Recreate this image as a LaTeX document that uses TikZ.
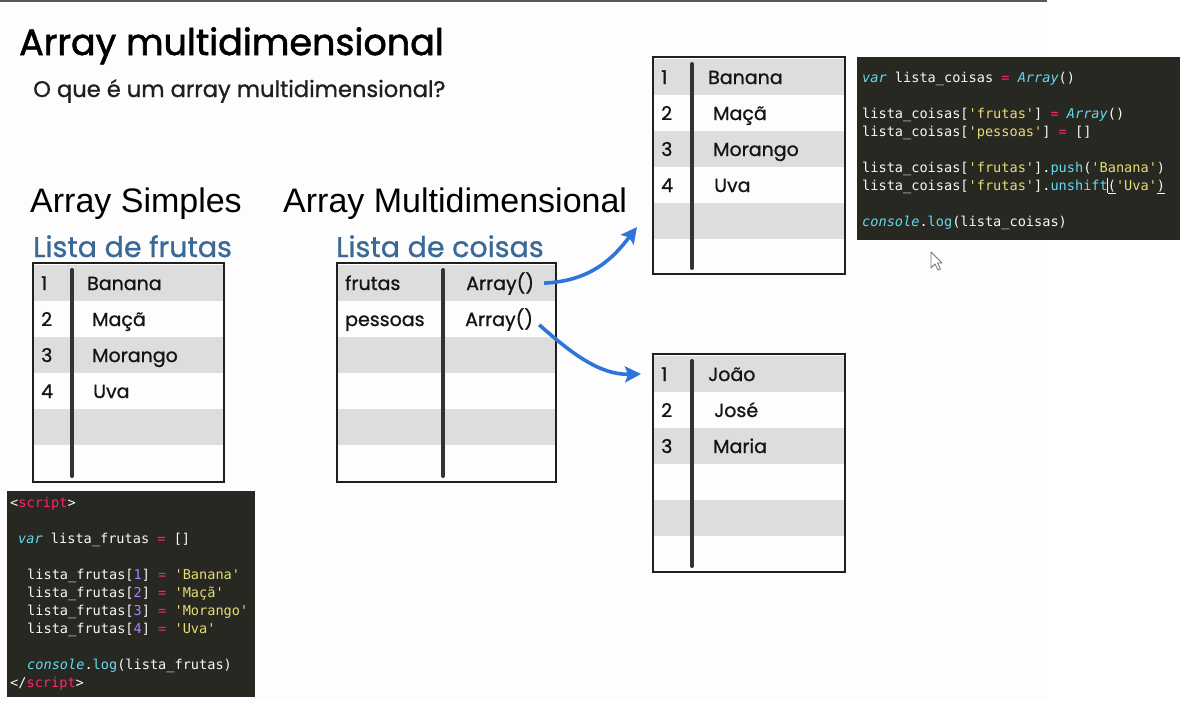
\documentclass[tikz,border=0pt]{standalone}
\usepackage{fontspec}
\setmainfont{Poppins}
\newfontfamily\handfont{Poppins}[FakeBold=0.9]
\newfontfamily\handheavy{Poppins}[FakeBold=1.6]
\newfontfamily\arialfont{Liberation Sans}
\setmonofont{DejaVu Sans Mono}
\usetikzlibrary{arrows.meta}

\definecolor{rowgray}{HTML}{DDDDDD}
\definecolor{listblue}{HTML}{3A6897}
\definecolor{arrowblue}{HTML}{2F74D8}
\definecolor{codebg}{HTML}{272822}
\definecolor{cfg}{HTML}{F8F8F2}
\definecolor{cpink}{HTML}{F92672}
\definecolor{cyellow}{HTML}{E6DB74}
\definecolor{cpurple}{HTML}{AE81FF}
\definecolor{ccyan}{HTML}{66D9EF}

% code colouring helpers
\newcommand{\kwp}[1]{\textcolor{cpink}{#1}}
\newcommand{\kws}[1]{\textcolor{cyellow}{#1}}
\newcommand{\kwn}[1]{\textcolor{cpurple}{#1}}
\newcommand{\kwc}[1]{\textcolor{ccyan}{#1}}
\newcommand{\kwi}[1]{\textcolor{ccyan}{\itshape #1}}

\tikzset{
  cell/.style={anchor=base west, inner sep=0pt, font=\handfont\fontsize{19}{19}\selectfont, text=black!92},
  listhead/.style={anchor=base west, inner sep=0pt, font=\handfont\fontsize{28.5}{28.5}\selectfont, text=listblue},
  section/.style={anchor=base west, inner sep=0pt, font=\arialfont\fontsize{34}{34}\selectfont},
  codeline/.style={anchor=base west, inner sep=0pt, font=\ttfamily\fontsize{13.6}{13.6}\selectfont, text=cfg},
  frame/.style={draw=black!88, line width=2pt},
  divider/.style={draw=black!80, line width=4pt, line cap=round},
  flow/.style={draw=arrowblue, line width=3.6pt, -{Stealth[length=16pt,width=16pt,inset=3pt]}},
}

\begin{document}
\begin{tikzpicture}[x=1pt,y=-1pt]
\useasboundingbox (0,0) rectangle (1195,710);
\fill[white] (0,0) rectangle (1195,710);
\fill[black!0.8] (0,2) rectangle (1047,700);
\draw[black!65, line width=2.5pt] (0,1) -- (1047,1);

% titles
\node[anchor=base west, inner sep=0pt, font=\handheavy\fontsize{36.5}{36.5}\selectfont] (title) at (19,55) {Array multidimensional};
\node[anchor=base west, inner sep=0pt, font=\handfont\fontsize{22.6}{22.6}\selectfont, text=black!88] (subtitle) at (33,97) {O que é um array multidimensional?};
\node[section] (simples) at (30,212) {Array Simples};
\node[section] (multi) at (283,212) {Array Multidimensional};

% ---- simple list ----
\node[listhead] (hfrutas) at (33,257) {Lista de frutas};
\foreach \r in {0,2,4} \fill[rowgray] (34,265+\r*36) rectangle ++(190,36);
\draw[frame] (33,263) rectangle (224,482);
\draw[divider] (72,270) -- (72,476);
\node[cell] (ln1) at (41,290) {1};
\node[cell] (ln2) at (41,326) {2};
\node[cell] (ln3) at (41,362) {3};
\node[cell] (ln4) at (41,398) {4};
\node[cell] (lv1) at (87,290) {Banana};
\node[cell] (lv2) at (92,326) {Maçã};
\node[cell] (lv3) at (92,362) {Morango};
\node[cell] (lv4) at (93,398) {Uva};

% ---- list of lists ----
\node[listhead] (hcoisas) at (336,257) {Lista de coisas};
\foreach \r in {0,2,4} \fill[rowgray] (338,265+\r*36) rectangle ++(218,36);
\draw[frame] (337,263) rectangle (556,482);
\draw[divider] (443,270) -- (443,476);
\node[cell] (kfrutas) at (345,290) {frutas};
\node[cell] (kpessoas) at (345,326) {pessoas};
\node[cell] (arr1) at (466,290) {Array()};
\node[cell] (arr2) at (465,326) {Array()};

% ---- fruits array ----
\foreach \r in {0,2,4} \fill[rowgray] (654,59+\r*36) rectangle ++(190,36);
\draw[frame] (653,57) rectangle (845,274);
\draw[divider] (692,64) -- (692,268);
\node[cell] (fn1) at (661,84) {1};
\node[cell] (fn2) at (661,120) {2};
\node[cell] (fn3) at (661,156) {3};
\node[cell] (fn4) at (661,192) {4};
\node[cell] (fv1) at (708,84) {Banana};
\node[cell] (fv2) at (713,120) {Maçã};
\node[cell] (fv3) at (713,156) {Morango};
\node[cell] (fv4) at (714,192) {Uva};
\coordinate (fin) at (637,227);

% ---- people array ----
\foreach \r in {0,2,4} \fill[rowgray] (654,356+\r*36) rectangle ++(190,36);
\draw[frame] (653,354) rectangle (845,572);
\draw[divider] (692,361) -- (692,566);
\node[cell] (pn1) at (661,381) {1};
\node[cell] (pn2) at (661,417) {2};
\node[cell] (pn3) at (661,453) {3};
\node[cell] (pv1) at (708,381) {João};
\node[cell] (pv2) at (714,417) {José};
\node[cell] (pv3) at (713,453) {Maria};
\coordinate (pin) at (641,374);

% ---- references ----
\draw[flow, shorten <=10pt] (arr1.east) .. controls (592,281) and (614,257) .. (fin);
\draw[flow, shorten <=8pt] (arr2.east) .. controls (568,350) and (598,375) .. (pin);

% ---- code: simple list ----
\fill[codebg] (7,491) rectangle (255,697);
\node[codeline] (c1) at (10,507) {<\kwp{script}>};
\node[codeline] (c2) at (18,543) {\kwi{var} lista\_frutas \kwp{=} []};
\node[codeline] (c3) at (27,579) {lista\_frutas[\kwn{1}] \kwp{=} \kws{'Banana'}};
\node[codeline] (c4) at (27,597) {lista\_frutas[\kwn{2}] \kwp{=} \kws{'Maçã'}};
\node[codeline] (c5) at (27,615) {lista\_frutas[\kwn{3}] \kwp{=} \kws{'Morango'}};
\node[codeline] (c6) at (27,633) {lista\_frutas[\kwn{4}] \kwp{=} \kws{'Uva'}};
\node[codeline] (c7) at (27,669) {\kwi{console}.\kwc{log}(lista\_frutas)};
\node[codeline] (c8) at (10,687) {</\kwp{script}>};

% ---- code: list of lists ----
\fill[codebg] (857,57) rectangle (1180,240);
\node[codeline] (d1) at (862,82) {\kwi{var} lista\_coisas \kwp{=} \kwi{Array}()};
\node[codeline] (d2) at (862,118) {lista\_coisas[\kws{'frutas'}] \kwp{=} \kwi{Array}()};
\node[codeline] (d3) at (862,136) {lista\_coisas[\kws{'pessoas'}] \kwp{=} []};
\node[codeline] (d4) at (862,172) {lista\_coisas[\kws{'frutas'}].\kwc{push}(\kws{'Banana'})};
\node[codeline] (d5) at (862,190) {lista\_coisas[\kws{'frutas'}].\kwc{unshift}\makebox[0pt]{\color{cfg}\rule[-3pt]{1pt}{15pt}}\underline{(}\kws{'Uva'}\underline{)}};
\node[codeline] (d6) at (862,226) {\kwi{console}.\kwc{log}(lista\_coisas)};

% mouse pointer
\draw[black!55, fill=white, line width=0.8pt, line join=round]
  (931,252) -- (931,268) -- (935,264) -- (938,270) -- (940.5,269) -- (937.5,263) -- (942,263) -- cycle;
\end{tikzpicture}
\end{document}
